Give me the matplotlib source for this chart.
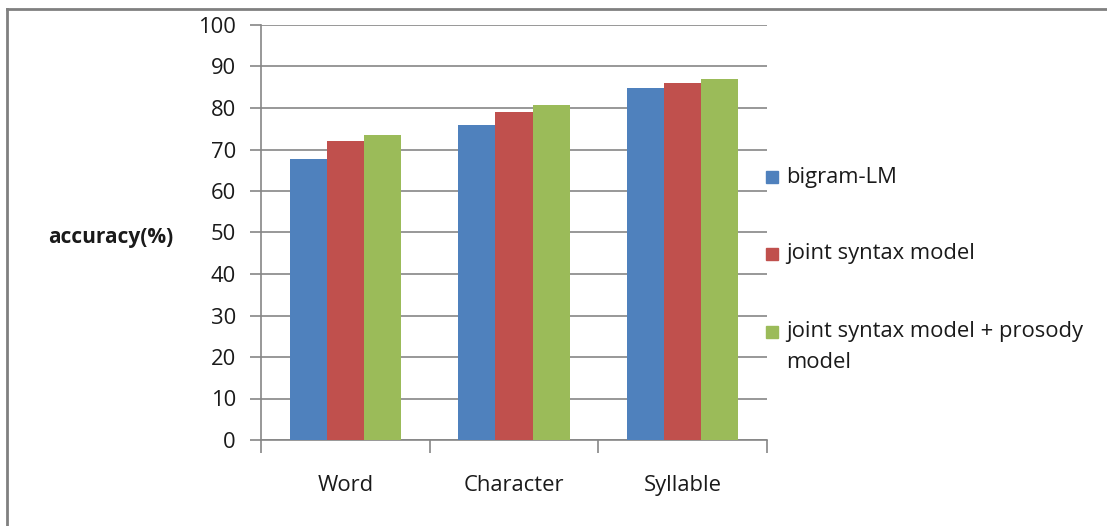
import matplotlib
matplotlib.use("Agg")
import matplotlib.pyplot as plt
import numpy as np
from matplotlib.patches import Rectangle
from matplotlib.lines import Line2D

plt.rcParams['font.family'] = ['Open Sans', 'DejaVu Sans']

categories = ["Word", "Character", "Syllable"]
series_names = ["bigram-LM", "joint syntax model", "joint syntax model + prosody\nmodel"]
bigram_lm = [67.8, 75.9, 84.8]
joint_syntax = [72.1, 79.0, 86.0]
joint_prosody = [73.5, 80.7, 86.9]
colors = ["#4f81bd", "#c0504d", "#9bbb59"]
y_ticks = list(range(0, 101, 10))

series = [bigram_lm, joint_syntax, joint_prosody]
FS = 15.8

fig = plt.figure(figsize=(11.07, 5.26), dpi=100)
ax = fig.add_axes([261 / 1107, 1 - 440 / 526, (767 - 261) / 1107, (440 - 25) / 526])

x = np.arange(len(categories))
width = 0.22
for i, (vals, c) in enumerate(zip(series, colors)):
    ax.bar(x + (i - 1) * width, vals, width, color=c, zorder=3, linewidth=0)

axis_grey = "#868686"
ax.set_xlim(-0.5, len(categories) - 0.5)
ax.set_ylim(0, 100)
ax.set_yticks(y_ticks)
ax.set_yticklabels([str(t) for t in y_ticks], fontsize=FS, color="#1a1a1a")
ax.yaxis.grid(True, color=axis_grey, linewidth=1.2, zorder=0)
ax.set_xticks(x)
ax.set_xticklabels(categories, fontsize=FS, color="#1a1a1a")
ax.tick_params(axis='x', which='major', length=0, pad=25)
ax.set_xticks(np.arange(-0.5, len(categories), 1.0), minor=True)
ax.tick_params(axis='x', which='minor', length=9, color=axis_grey, width=1.2, direction='out')
ax.tick_params(axis='y', length=8, color=axis_grey, width=1.2, direction='out', pad=10)
for side in ("top", "right"):
    ax.spines[side].set_visible(False)
for side in ("left", "bottom"):
    ax.spines[side].set_color(axis_grey)
    ax.spines[side].set_linewidth(1.2)

fig.text(111 / 1107, 1 - 237 / 526, "accuracy(%)", fontsize=FS - 0.8, fontweight='bold',
         ha='center', va='center', color="#1a1a1a")

# legend drawn by hand: squares beside the labels
legend_y = [177, 254, 332]
for name, c, ly in zip(series_names, colors, legend_y):
    fig.patches.append(Rectangle((766 / 1107, 1 - (ly + 6) / 526), 12 / 1107, 12 / 526,
                                 transform=fig.transFigure, color=c))
    if '\n' in name:
        fig.text(786 / 1107, 1 - (ly - 11) / 526, name, fontsize=FS, ha='left', va='top',
                 linespacing=1.65, color="#1a1a1a")
    else:
        fig.text(786 / 1107, 1 - ly / 526, name, fontsize=FS, ha='left', va='center',
                 color="#1a1a1a")

# chart frame: top and left edges
fig.lines.append(Line2D([7 / 1107, 1], [1 - 9 / 526, 1 - 9 / 526], transform=fig.transFigure,
                        color="#808080", linewidth=2))
fig.lines.append(Line2D([7 / 1107, 7 / 1107], [0, 1 - 9 / 526], transform=fig.transFigure,
                        color="#808080", linewidth=2))

fig.savefig("out.png", dpi=100)
